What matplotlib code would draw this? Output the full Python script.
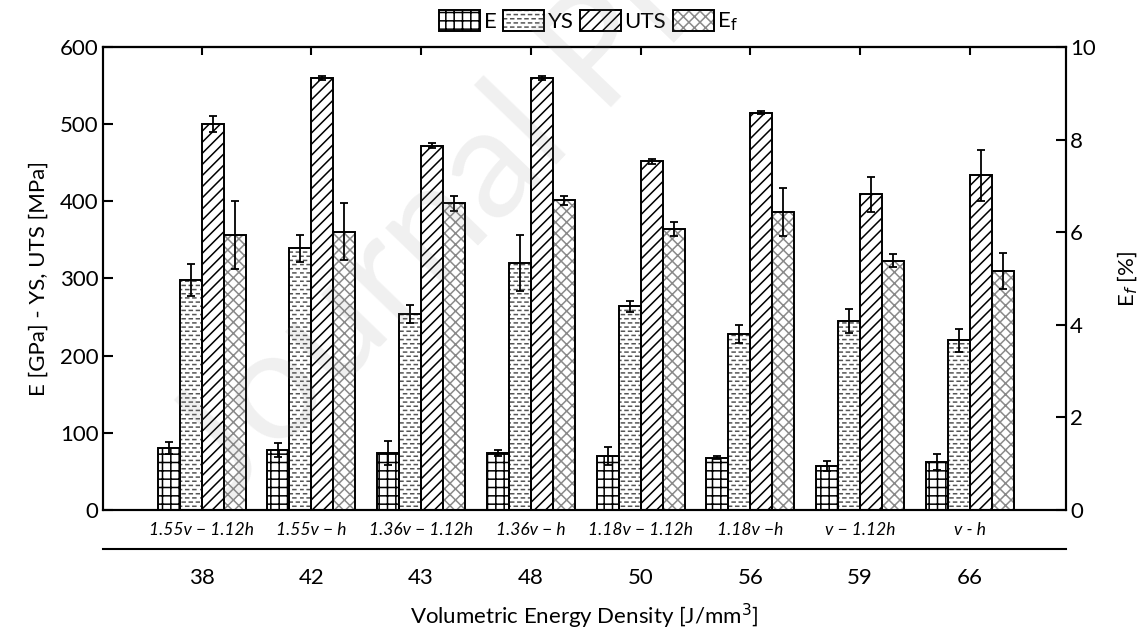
import warnings
import numpy as np
import matplotlib
matplotlib.use("Agg")
import matplotlib.pyplot as plt
import matplotlib.hatch as mhatch
from matplotlib.path import Path
from matplotlib.patches import Patch

warnings.filterwarnings("ignore")

# dados
vedens = ["38", "42", "43", "48", "50", "56", "59", "66"]
config = ["1.55v − 1.12h", "1.55v − h", "1.36v − 1.12h", "1.36v − h",
          "1.18v − 1.12h", "1.18v −h", "v − 1.12h", "v - h"]

E = [80, 78, 74, 74, 70, 68, 57, 62]
E_err = [7.5, 9, 16, 4, 12, 2, 6, 10]
YS = [298, 339, 254, 320, 264, 228, 245, 220]
YS_err = [21, 17, 12, 36, 7, 12, 16, 15]
UTS = [500, 560, 472, 560, 452, 515, 409, 434]
UTS_err = [10, 3, 3, 3, 3, 2, 23, 33]
Ef = [5.94, 6.01, 6.62, 6.69, 6.07, 6.43, 5.38, 5.16]
Ef_err = [0.74, 0.62, 0.16, 0.10, 0.16, 0.52, 0.14, 0.38]


# hachura de tracinhos (padrão do YS)
class DashHatch(mhatch.HatchPatternBase):
    def __init__(self, hatch, density):
        self.rows = hatch.count('_') * density
        self.per_row = int(self.rows * 0.6)
        self.num_vertices = self.rows * self.per_row * 2

    def set_vertices_and_codes(self, vertices, codes):
        k = 0
        for i in range(self.rows):
            y = (i + 0.5) / self.rows
            off = 0.5 if i % 2 else 0.0
            for j in range(self.per_row):
                x0 = (j + off) / self.per_row
                vertices[k] = (x0, y)
                vertices[k + 1] = (x0 + 0.42 / self.per_row, y)
                codes[k] = Path.MOVETO
                codes[k + 1] = Path.LINETO
                k += 2


mhatch._hatch_types.append(DashHatch)

plt.rcParams['font.family'] = ['Lato', 'DejaVu Sans']
plt.rcParams['hatch.linewidth'] = 1.1
plt.rcParams['axes.linewidth'] = 1.5

fig = plt.figure(figsize=(11.43, 6.3), dpi=100)
ax = fig.add_axes([0.090, 0.1905, 0.8426, 0.7349])
ax2 = ax.twinx()

x = np.arange(len(vedens))
w = 0.2
series = [
    (ax, E, E_err, '++', 'black', -1.5),
    (ax, YS, YS_err, '____', '#555555', -0.5),
    (ax, UTS, UTS_err, '///', 'black', 0.5),
    (ax2, Ef, Ef_err, 'xxx', '#8a8a8a', 1.5),
]
for a, vals, errs, htc, hcol, off in series:
    a.bar(x + off * w, vals, w, color='white', edgecolor=hcol, hatch=htc,
          linewidth=0, zorder=2)
    a.bar(x + off * w, vals, w, color='none', edgecolor='black',
          linewidth=1.4, zorder=3)
    a.errorbar(x + off * w, vals, yerr=errs, fmt='none', ecolor='black',
               elinewidth=1.3, capsize=3, capthick=1.3, zorder=4)

ax.set_xlim(-0.9, 7.876)
ax.set_ylim(0, 600)
ax2.set_ylim(0, 10)
ax.set_yticks([0, 100, 200, 300, 400, 500, 600])
ax2.set_yticks([0, 2, 4, 6, 8, 10])

ax.set_xticks(x)
ax.set_xticklabels(config, fontstyle='italic', fontsize=12.5)
ax.tick_params(axis='x', direction='in', length=0, pad=9)
ax.tick_params(axis='y', direction='in', length=7, width=1.5, labelsize=16,
               pad=3)
ax2.tick_params(axis='y', direction='in', length=7, width=1.5, labelsize=16,
                pad=3)

# marcas no topo
top = ax.secondary_xaxis('top')
top.set_xticks(x)
top.set_xticklabels([])
top.tick_params(direction='in', length=6, width=1.5)

# segundo eixo inferior com a densidade de energia
sec = ax.secondary_xaxis(-0.084)
sec.set_xticks(x)
sec.set_xticklabels(vedens, fontsize=16)
sec.tick_params(length=0, pad=14)
sec.spines['bottom'].set_linewidth(1.5)
sec.set_xlabel("Volumetric Energy Density [J/mm$^3$]", fontsize=16, labelpad=10)

ax.set_ylabel("E [GPa] - YS, UTS [MPa]", fontsize=16, labelpad=8)
ax2.set_ylabel("E$_f$ [%]", fontsize=16, labelpad=14)

# legenda
labels = ["E", "YS", "UTS", "E$_\\mathrm{f}$"]
handles = []
for a, vals, errs, htc, hcol, off in series:
    handles.append((Patch(facecolor='white', edgecolor=hcol, hatch=htc, linewidth=0),
                    Patch(facecolor='none', edgecolor='black', linewidth=1.4)))
fig.legend(handles, labels, loc='center', bbox_to_anchor=(0.515, 0.966),
           ncol=4, frameon=False, fontsize=16, handlelength=1.85,
           handleheight=1.1, handletextpad=0.15, columnspacing=0.3,
           borderpad=0)

# marca d'água
fig.text(0.2, 0.2, "Journal Pre-proof", rotation=46, fontsize=112,
         color='gray', alpha=0.12, ha='left', va='baseline',
         rotation_mode='anchor', zorder=10, clip_on=True)

fig.savefig("out.png", dpi=100)
